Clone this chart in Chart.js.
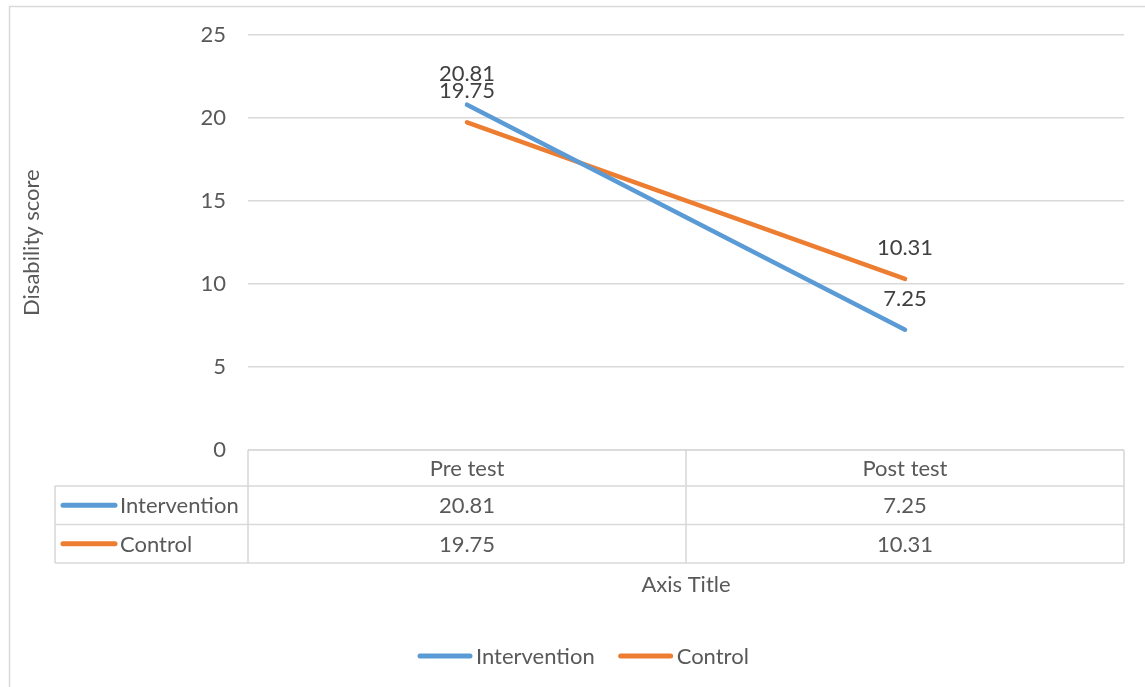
<!DOCTYPE html>
<html>
<head>
<meta charset="utf-8">
<script src="https://cdn.jsdelivr.net/npm/chart.js@4.4.1/dist/chart.umd.min.js"></script>
<style>
  html, body { margin: 0; padding: 0; background: #fff; }
  #wrap { width: 1145px; height: 687px; position: relative; }
</style>
</head>
<body>
<div id="wrap"><canvas id="c" width="1145" height="687"></canvas></div>
<script>
// Disability score, before and after
const categories = ['Pre test', 'Post test'];
const seriesNames = ['Intervention', 'Control'];
const interventionScores = [20.81, 7.25];
const controlScores = [19.75, 10.31];
const yTickValues = [0, 5, 10, 15, 20, 25];
const yAxisTitle = 'Disability score';
const xAxisTitle = 'Axis Title';

const BLUE = '#5B9BD5';
const ORANGE = '#ED7D31';
const GRID = '#D9D9D9';
const TEXT = '#595959';
const FONT_FAMILY = 'Lato, "Liberation Sans", sans-serif';
const FONT_SIZE = 22;
const FONT = FONT_SIZE + 'px ' + FONT_FAMILY;

function fmt(v) { return String(v); }

// Data labels above each line point
const pointLabels = {
  id: 'pointLabels',
  afterDatasetsDraw(chart) {
    const ctx = chart.ctx;
    ctx.save();
    ctx.font = FONT;
    ctx.fillStyle = '#404040';
    ctx.textAlign = 'center';
    ctx.textBaseline = 'middle';
    chart.data.datasets.forEach((ds, i) => {
      chart.getDatasetMeta(i).data.forEach((pt, j) => {
        ctx.fillText(fmt(ds.data[j]), pt.x, pt.y - 31);
      });
    });
    ctx.restore();
  }
};

// Data table under the plot, axis title and legend
const dataTable = {
  id: 'dataTable',
  afterDraw(chart) {
    const ctx = chart.ctx;
    const x = chart.scales.x;
    const area = chart.chartArea;
    const left = x.getPixelForValue(-0.5);
    const right = x.getPixelForValue(categories.length - 0.5);
    const headTop = area.bottom;
    const rowH = 38.5;
    const rowsY = [headTop, headTop + 36, headTop + 36 + rowH, headTop + 36 + 2 * rowH];
    const keyLeft = 55;
    ctx.save();

    // outer frame of the chart
    ctx.strokeStyle = GRID;
    ctx.lineWidth = 1.5;
    ctx.strokeRect(9.5, 6.5, 1160, 700);

    // grid of the table
    ctx.strokeStyle = GRID;
    ctx.lineWidth = 1.6;
    ctx.beginPath();
    ctx.moveTo(left, rowsY[0]); ctx.lineTo(right, rowsY[0]);
    for (let r = 1; r < rowsY.length; r++) {
      ctx.moveTo(keyLeft, rowsY[r]); ctx.lineTo(right, rowsY[r]);
    }
    for (let c = 0; c <= categories.length; c++) {
      const px = x.getPixelForValue(c - 0.5);
      ctx.moveTo(px, rowsY[0]); ctx.lineTo(px, rowsY[3]);
    }
    ctx.moveTo(keyLeft, rowsY[1]); ctx.lineTo(keyLeft, rowsY[3]);
    ctx.stroke();

    ctx.font = FONT;
    ctx.fillStyle = TEXT;
    ctx.textBaseline = 'middle';
    ctx.textAlign = 'center';
    categories.forEach((cat, j) => {
      ctx.fillText(cat, x.getPixelForValue(j), (rowsY[0] + rowsY[1]) / 2 + 1);
    });
    chart.data.datasets.forEach((ds, i) => {
      const cy = (rowsY[i + 1] + rowsY[i + 2]) / 2 + 1;
      ds.data.forEach((v, j) => {
        ctx.textAlign = 'center';
        ctx.fillText(fmt(v), x.getPixelForValue(j), cy);
      });
      // legend key in the table
      ctx.strokeStyle = ds.borderColor;
      ctx.lineWidth = 5;
      ctx.lineCap = 'round';
      ctx.beginPath();
      ctx.moveTo(63, cy - 1); ctx.lineTo(115, cy - 1);
      ctx.stroke();
      ctx.textAlign = 'left';
      ctx.fillText(ds.label, 120, cy);
    });

    // horizontal axis title
    ctx.textAlign = 'center';
    ctx.fillText(xAxisTitle, (area.left + area.right) / 2, 585);

    // legend
    let lx = 420;
    const ly = 656;
    chart.data.datasets.forEach((ds) => {
      ctx.strokeStyle = ds.borderColor;
      ctx.lineWidth = 5;
      ctx.lineCap = 'round';
      ctx.beginPath();
      ctx.moveTo(lx, ly); ctx.lineTo(lx + 50, ly);
      ctx.stroke();
      ctx.textAlign = 'left';
      ctx.fillText(ds.label, lx + 56, ly + 1);
      lx += 56 + ctx.measureText(ds.label).width + 26;
    });
    ctx.restore();
  }
};

new Chart(document.getElementById('c'), {
  type: 'line',
  data: {
    labels: categories,
    datasets: [
      { label: seriesNames[0], data: interventionScores, borderColor: BLUE, backgroundColor: BLUE },
      { label: seriesNames[1], data: controlScores, borderColor: ORANGE, backgroundColor: ORANGE }
    ]
  },
  options: {
    responsive: false,
    animation: false,
    devicePixelRatio: 1,
    layout: { padding: { left: 10, top: 35, right: 21, bottom: 237 } },
    elements: {
      line: { borderWidth: 4.5, borderCapStyle: 'round', tension: 0 },
      point: { radius: 0, hoverRadius: 0 }
    },
    plugins: {
      legend: { display: false },
      tooltip: { enabled: false }
    },
    scales: {
      x: {
        type: 'category',
        offset: true,
        display: false
      },
      y: {
        min: 0,
        max: 25,
        afterBuildTicks(scale) { scale.ticks = yTickValues.map(v => ({ value: v })); },
        afterFit(scale) { scale.width = 238; },
        grid: { color: GRID, lineWidth: 1.5, drawTicks: false },
        border: { display: false },
        ticks: {
          padding: 22,
          color: TEXT,
          font: { family: FONT_FAMILY, size: FONT_SIZE }
        },
        title: {
          display: true,
          text: yAxisTitle,
          color: TEXT,
          font: { family: FONT_FAMILY, size: FONT_SIZE },
          padding: { top: 9, bottom: 0 }
        }
      }
    }
  },
  plugins: [pointLabels, dataTable]
});
</script>
</body>
</html>
